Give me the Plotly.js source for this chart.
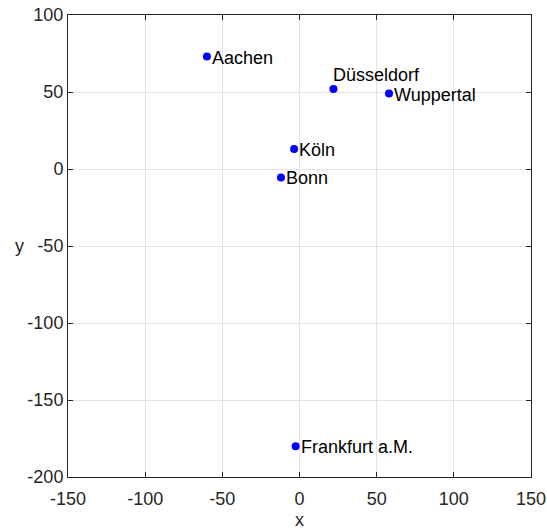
<!DOCTYPE html>
<html>
<head>
<meta charset="utf-8">
<script src="https://cdn.plot.ly/plotly-3.0.1.min.js"></script>
<style>html,body{margin:0;padding:0;background:#fff;}#chart{width:547px;height:532px;}</style>
</head>
<body>
<div id="chart"></div>
<script>
const cities = ["Aachen", "Düsseldorf", "Wuppertal", "Köln", "Bonn", "Frankfurt a.M."];
const xVals = [-60, 22, 58, -3.5, -12, -2.5];
const yVals = [73, 52, 49, 13, -5.5, -180];
const xTicks = [-150, -100, -50, 0, 50, 100, 150];
const yTicks = [-200, -150, -100, -50, 0, 50, 100];

const FONT = "Liberation Sans, Arial, sans-serif";
const axisCommon = {
  showgrid: true, gridcolor: "#e3e3e3", gridwidth: 1,
  zeroline: false, showline: true, linecolor: "#262626", linewidth: 1,
  mirror: "ticks", ticks: "inside", ticklen: 5, tickcolor: "#262626",
  tickfont: {family: FONT, size: 18, color: "#262626"},
  tickmode: "array"
};

// Düsseldorf label sits above-right of its point; all others directly right
const rightIdx = [0, 2, 3, 4, 5];
const topIdx = [1];

const markerTrace = {
  x: xVals, y: yVals, mode: "markers", type: "scatter",
  marker: {color: "#0000ff", size: 8}, hoverinfo: "skip", cliponaxis: false
};

const annotations = [];
rightIdx.forEach(i => annotations.push({
  x: xVals[i], y: yVals[i], text: cities[i], xref: "x", yref: "y",
  xanchor: "left", yanchor: "middle", showarrow: false, xshift: 3, yshift: -1,
  font: {family: FONT, size: 18, color: "#000"}
}));
topIdx.forEach(i => annotations.push({
  x: xVals[i], y: yVals[i], text: cities[i], xref: "x", yref: "y",
  xanchor: "left", yanchor: "bottom", showarrow: false, xshift: -2, yshift: 2,
  font: {family: FONT, size: 18, color: "#000"}
}));
annotations.push({
  text: "y", xref: "paper", yref: "paper", x: -0.105, y: 0.5,
  xanchor: "center", yanchor: "middle", showarrow: false,
  font: {family: FONT, size: 18, color: "#262626"}
});
annotations.push({
  text: "x", xref: "paper", yref: "paper", x: 0.5, y: -0.092,
  xanchor: "center", yanchor: "middle", showarrow: false,
  font: {family: FONT, size: 18, color: "#262626"}
});

const layout = {
  width: 547, height: 532,
  margin: {l: 68, r: 16, t: 15, b: 55},
  paper_bgcolor: "#fff", plot_bgcolor: "#fff",
  showlegend: false,
  xaxis: Object.assign({}, axisCommon, {
    range: [-150, 150], tickvals: xTicks, ticktext: xTicks.map(String),
    ticklabelstandoff: 5
  }),
  yaxis: Object.assign({}, axisCommon, {
    range: [-200, 100], tickvals: yTicks, ticktext: yTicks.map(String)
  }),
  annotations: annotations
};

Plotly.newPlot("chart", [markerTrace], layout, {displayModeBar: false, staticPlot: true});
</script>
</body>
</html>
